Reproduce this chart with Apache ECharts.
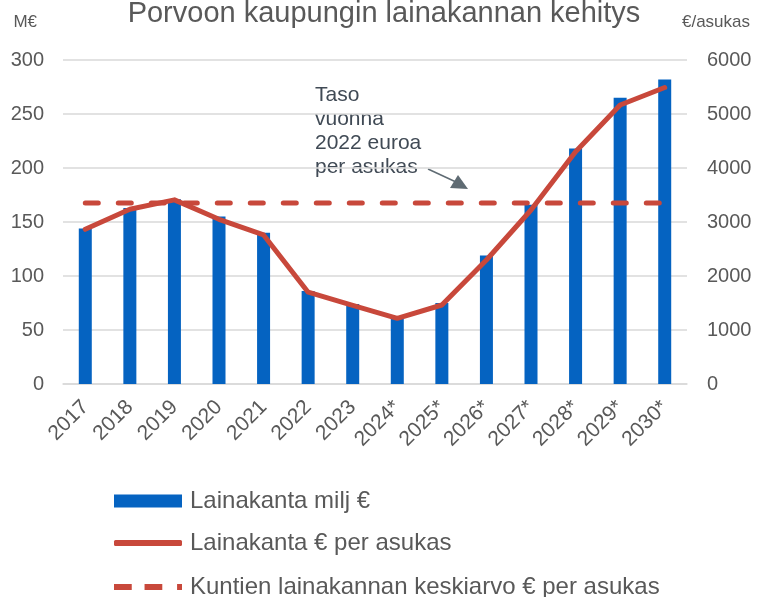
<!DOCTYPE html>
<html>
<head>
<meta charset="utf-8">
<script src="https://cdn.jsdelivr.net/npm/echarts@6/dist/echarts.min.js"></script>
<style>
  html, body { margin: 0; padding: 0; background: #fff; }
  #chart { width: 768px; height: 597px; }
</style>
</head>
<body>
<div id="chart"></div>
<script>
  // vuodet, * = ennuste
  const years = ['2017', '2018', '2019', '2020', '2021', '2022', '2023',
    '2024*', '2025*', '2026*', '2027*', '2028*', '2029*', '2030*']

  // lainakanta milj €
  const loanMillions = [144, 163, 171, 155, 140, 86, 74, 61, 75, 119, 166, 218, 265, 282]

  // lainakanta € per asukas
  const loanPerCapita = [2865, 3235, 3410, 3050, 2760, 1700, 1457, 1216, 1463, 2296, 3222, 4300, 5167, 5490]

  // kuntien keskiarvo € per asukas (2022)
  const avgPerCapita = [3350, 3350, 3350, 3350, 3350, 3350, 3350,
    3350, 3350, 3350, 3350, 3350, 3350, 3350]

  const seriesNames = ['Lainakanta milj €', 'Lainakanta € per asukas',
    'Kuntien lainakannan keskiarvo € per asukas']

  const noteLines = ['Taso', 'vuonna', '2022 euroa', 'per asukas']

  const font = 'Liberation Sans, Arial, sans-serif'
  const grey = '#595959'
  const gridGrey = '#d9d9d9'
  const blue = '#0563C1'
  const red = '#C8483B'

  let legendText = {fontSize: 24, color: grey, fontFamily: font, padding: [0, 0, 0, 3]}

  let chart = echarts.init(document.getElementById('chart'))

  chart.setOption({
    animation: false,
    textStyle: {fontFamily: font},
    title: {
      text: 'Porvoon kaupungin lainakannan kehitys',
      left: 'center',
      top: -6,
      textStyle: {fontSize: 29, fontWeight: 'normal', color: grey, fontFamily: font}
    },
    grid: {left: 63, right: 81, top: 60, bottom: 213},
    legend: [
      {
        left: 109, top: 484,
        itemWidth: 68, itemHeight: 13,
        textStyle: legendText,
        data: [{name: seriesNames[0], icon: 'rect'}]
      },
      {
        left: 109, top: 526,
        itemWidth: 68, itemHeight: 6,
        textStyle: legendText,
        data: [{name: seriesNames[1], icon: 'roundRect'}]
      },
      {
        left: 109, top: 570,
        itemWidth: 68, itemHeight: 6,
        textStyle: legendText,
        data: [{name: seriesNames[2], icon: 'path://M0,0h18v6h-18z M31,0h18v6h-18z M64,0h5v6h-5z'}]
      }
    ],
    xAxis: {
      type: 'category',
      data: years,
      axisTick: {show: false},
      axisLine: {lineStyle: {color: gridGrey, width: 1.5}},
      axisLabel: {rotate: 45, fontSize: 21, color: grey, margin: 20, interval: 0}
    },
    yAxis: [
      {
        type: 'value',
        min: 0,
        max: 300,
        interval: 50,
        name: 'M€',
        nameGap: 29,
        nameTextStyle: {fontSize: 17, color: grey, align: 'right', padding: [0, 26, 0, 0]},
        axisLabel: {fontSize: 20, color: grey, margin: 19},
        splitLine: {lineStyle: {color: gridGrey, width: 1.5}}
      },
      {
        type: 'value',
        min: 0,
        max: 6000,
        interval: 1000,
        name: '€/asukas',
        nameGap: 29,
        nameTextStyle: {fontSize: 17, color: grey, align: 'center', padding: [0, 0, 0, 58]},
        axisLabel: {fontSize: 20, color: grey, margin: 20, formatter: v => String(v)},
        splitLine: {show: false}
      }
    ],
    series: [
      {
        name: seriesNames[0],
        type: 'bar',
        yAxisIndex: 0,
        barWidth: 13,
        itemStyle: {color: blue},
        data: loanMillions
      },
      {
        name: seriesNames[2],
        type: 'line',
        yAxisIndex: 1,
        symbol: 'none',
        lineStyle: {color: red, width: 5, type: [13, 20], cap: 'round'},
        itemStyle: {color: red},
        data: avgPerCapita
      },
      {
        name: seriesNames[1],
        type: 'line',
        yAxisIndex: 1,
        symbol: 'none',
        lineStyle: {color: red, width: 5, cap: 'round', join: 'round'},
        itemStyle: {color: red},
        z: 5,
        data: loanPerCapita
      }
    ],
    graphic: [
      {
        type: 'text',
        left: 315,
        top: 83,
        style: {
          text: noteLines.join('\n'),
          font: '21px ' + font,
          fill: '#404A55',
          lineHeight: 24
        }
      },
      {
        type: 'line',
        shape: {x1: 428, y1: 169, x2: 456, y2: 182},
        style: {stroke: '#5f6b73', lineWidth: 1.5}
      },
      {
        type: 'polygon',
        shape: {points: [[468, 189], [450, 188], [458, 175]]},
        style: {fill: '#5f6b73'}
      }
    ]
  })
</script>
</body>
</html>
